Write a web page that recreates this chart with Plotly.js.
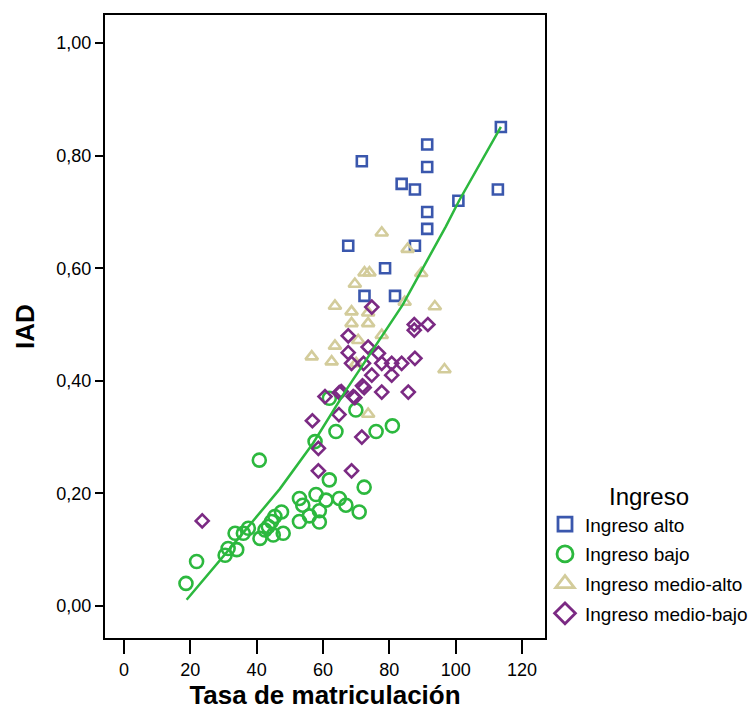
<!DOCTYPE html>
<html><head><meta charset="utf-8">
<script src="https://cdn.plot.ly/plotly-3.0.1.min.js"></script>
<style>html,body{margin:0;padding:0;background:#fff}#chart{width:756px;height:713px}</style>
</head><body><div id="chart"></div>
<script>
const seriesNames = ["Ingreso alto", "Ingreso bajo", "Ingreso medio-alto", "Ingreso medio-bajo"];
const altoX = [113.6, 91.4, 71.7, 91.4, 83.7, 87.7, 112.7, 100.8, 91.4, 91.4, 67.6, 87.7, 78.7, 72.5, 81.7];
const altoY = [0.851, 0.82, 0.79, 0.78, 0.75, 0.74, 0.74, 0.72, 0.70, 0.67, 0.64, 0.64, 0.60, 0.551, 0.551];
const bajoX = [18.7, 21.9, 30.5, 31.4, 34.0, 33.5, 36.0, 37.5, 41.0, 42.5, 43.5, 44.5, 45.0, 45.5, 47.5, 48.0, 40.8, 52.9, 52.9, 53.9, 55.9, 57.9, 58.9, 58.9, 60.9, 64.9, 66.9, 70.9, 72.4, 61.9, 57.6, 63.9, 61.9, 69.9, 76.0, 80.9];
const bajoY = [0.04, 0.079, 0.09, 0.102, 0.10, 0.129, 0.129, 0.138, 0.12, 0.135, 0.141, 0.15, 0.126, 0.159, 0.167, 0.129, 0.259, 0.15, 0.191, 0.179, 0.16, 0.198, 0.169, 0.149, 0.188, 0.191, 0.179, 0.167, 0.211, 0.224, 0.292, 0.31, 0.369, 0.348, 0.31, 0.32];
const medAltoX = [77.7, 85.5, 72.5, 74.0, 89.6, 69.6, 63.6, 68.6, 73.6, 84.6, 93.7, 68.6, 73.6, 77.7, 70.6, 63.6, 56.6, 62.6, 70.0, 96.6, 73.6];
const medAltoY = [0.663, 0.634, 0.592, 0.592, 0.591, 0.572, 0.533, 0.523, 0.521, 0.54, 0.532, 0.502, 0.502, 0.481, 0.472, 0.462, 0.443, 0.434, 0.431, 0.42, 0.341];
const medBajoX = [23.6, 56.8, 58.6, 58.6, 68.6, 71.7, 64.8, 60.6, 64.9, 65.5, 69.1, 69.6, 71.9, 72.4, 77.7, 85.7, 74.7, 80.7, 68.6, 72.2, 77.7, 80.7, 83.7, 87.7, 67.6, 76.7, 73.6, 67.6, 87.5, 87.5, 91.6, 74.7];
const medBajoY = [0.151, 0.329, 0.28, 0.24, 0.24, 0.30, 0.34, 0.372, 0.379, 0.381, 0.372, 0.37, 0.391, 0.388, 0.38, 0.38, 0.41, 0.41, 0.431, 0.431, 0.431, 0.431, 0.431, 0.44, 0.45, 0.449, 0.46, 0.48, 0.49, 0.50, 0.50, 0.531];
const fitX = [18.9, 30, 37.5, 47, 57, 67, 77, 84, 97, 101, 113.6];
const fitY = [0.011, 0.088, 0.141, 0.208, 0.289, 0.384, 0.472, 0.535, 0.674, 0.72, 0.851];
const xTicks = [0, 20, 40, 60, 80, 100, 120];
const yTicks = [0, 0.2, 0.4, 0.6, 0.8, 1.0];

const colors = ["#3a57ad", "#2cb83e", "#d3cc9b", "#7b2a83"];
const symbols = ["square-open", "circle-open", "triangle-up-open", "diamond-open"];
const sizes = [10, 13, 11, 10];
const legendSizes = [14, 16, 16, 16];
const xs = [altoX, bajoX, medAltoX, medBajoX];
const ys = [altoY, bajoY, medAltoY, medBajoY];

const traces = seriesNames.map((n, i) => ({
  type: "scatter", mode: "markers", name: n, x: xs[i], y: ys[i],
  showlegend: false,
  marker: {symbol: symbols[i], size: sizes[i], color: colors[i], line: {width: 2.6, color: colors[i]}},
  hoverinfo: "skip"
}));
traces.push({type: "scatter", mode: "lines", x: fitX, y: fitY, showlegend: false,
  line: {color: "#2cb83e", width: 2.5}, hoverinfo: "skip"});
seriesNames.forEach((n, i) => traces.push({
  type: "scatter", mode: "markers", name: n, x: [null], y: [null],
  legendgroup: "g" + i, showlegend: true,
  marker: {symbol: symbols[i], size: legendSizes[i], color: colors[i], line: {width: 2.8, color: colors[i]}},
  hoverinfo: "skip"
}));

const font = "Liberation Sans, Arial, sans-serif";
const layout = {
  width: 756, height: 713,
  margin: {l: 105, r: 211, t: 15, b: 75, autoexpand: false},
  paper_bgcolor: "#fff", plot_bgcolor: "#fff",
  separators: ",.",
  font: {family: font, color: "#000", size: 18},
  xaxis: {
    range: [-5.7, 126.9], tickvals: xTicks, ticktext: xTicks.map(String),
    showgrid: false, zeroline: false, showline: true, mirror: true, linecolor: "#000", linewidth: 2,
    ticks: "outside", ticklen: 14, tickwidth: 2, tickcolor: "#000",
    tickfont: {size: 18, family: font}, automargin: false,
    title: {text: "<b>Tasa de matriculación</b>", font: {size: 26, family: font}, standoff: 4}
  },
  yaxis: {
    range: [-0.057, 1.05], tickvals: yTicks, tickformat: ".2f",
    showgrid: false, zeroline: false, showline: true, mirror: true, linecolor: "#000", linewidth: 2,
    ticks: "outside", ticklen: 8, tickwidth: 2, tickcolor: "#000",
    tickfont: {size: 18, family: font}, automargin: false,
    title: {text: "<b>IAD</b>", font: {size: 26, family: font}, standoff: 14}
  },
  showlegend: true,
  legend: {
    x: 1, xanchor: "left", xref: "paper", y: 0.263, yanchor: "top",
    font: {size: 19, family: font}, tracegroupgap: 2, itemsizing: "trace",
    title: {text: "Ingreso", font: {size: 24, family: font}, side: "top center"},
    bgcolor: "rgba(0,0,0,0)", borderwidth: 0
  }
};
Plotly.newPlot("chart", traces, layout, {staticPlot: true, displayModeBar: false});
</script></body></html>
